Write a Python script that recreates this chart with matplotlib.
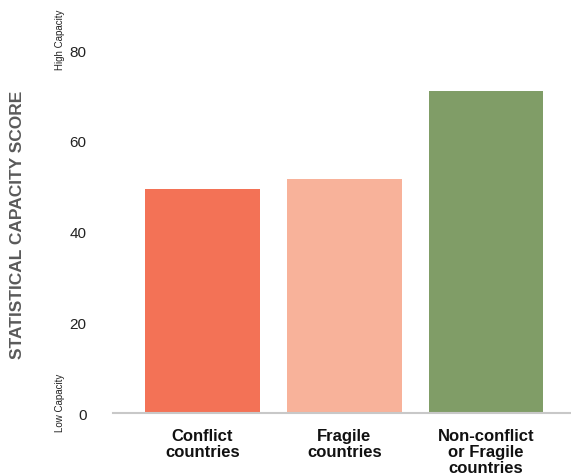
import numpy as np
import matplotlib.pyplot as plt
import matplotlib.transforms as mtransforms

plt.rcParams['font.family'] = ['Liberation Sans', 'DejaVu Sans']

categories = ['Conflict\ncountries', 'Fragile\ncountries', 'Non-conflict\nor Fragile\ncountries']
scores = [49.3, 51.5, 70.9]
colors = ['#F37256', '#F8B29A', '#809D67']
yticks = [0, 20, 40, 60, 80]

fig = plt.figure(figsize=(5.71, 4.77), dpi=100)
ax = fig.add_axes([0.198, 0.132, 0.802, 0.799])

x = np.arange(len(categories))
ax.bar(x, scores, width=0.81, color=colors)
ax.set_xlim(-0.632, 2.6)
ax.set_ylim(0, 84)
ax.set_xticks(x)
ax.set_xticklabels(categories, fontsize=12, fontweight='bold', color='#111111', linespacing=1.05)
ax.set_yticks(yticks)
ax.tick_params(axis='y', length=0, labelsize=11, pad=19, colors='#222222')
ax.tick_params(axis='x', length=0, pad=11)
for s in ['top', 'right', 'left']:
    ax.spines[s].set_visible(False)
ax.spines['bottom'].set_color('#c8c8c8')
ax.spines['bottom'].set_linewidth(1.5)

trans = mtransforms.blended_transform_factory(ax.transAxes, ax.transData)
ax.text(-0.116, 2.4, 'Low Capacity', rotation=90, transform=trans, ha='center', va='center',
        fontsize=7, color='#222222')
ax.text(-0.116, 82.4, 'High Capacity', rotation=90, transform=trans, ha='center', va='center',
        fontsize=7, color='#222222', clip_on=False)

fig.text(18 / 571, 1 - 225 / 477, 'STATISTICAL CAPACITY SCORE', rotation=90, ha='center', va='center',
         fontsize=12.5, fontweight='bold', color='#5a5a5a')

plt.savefig('out.png', dpi=100)
